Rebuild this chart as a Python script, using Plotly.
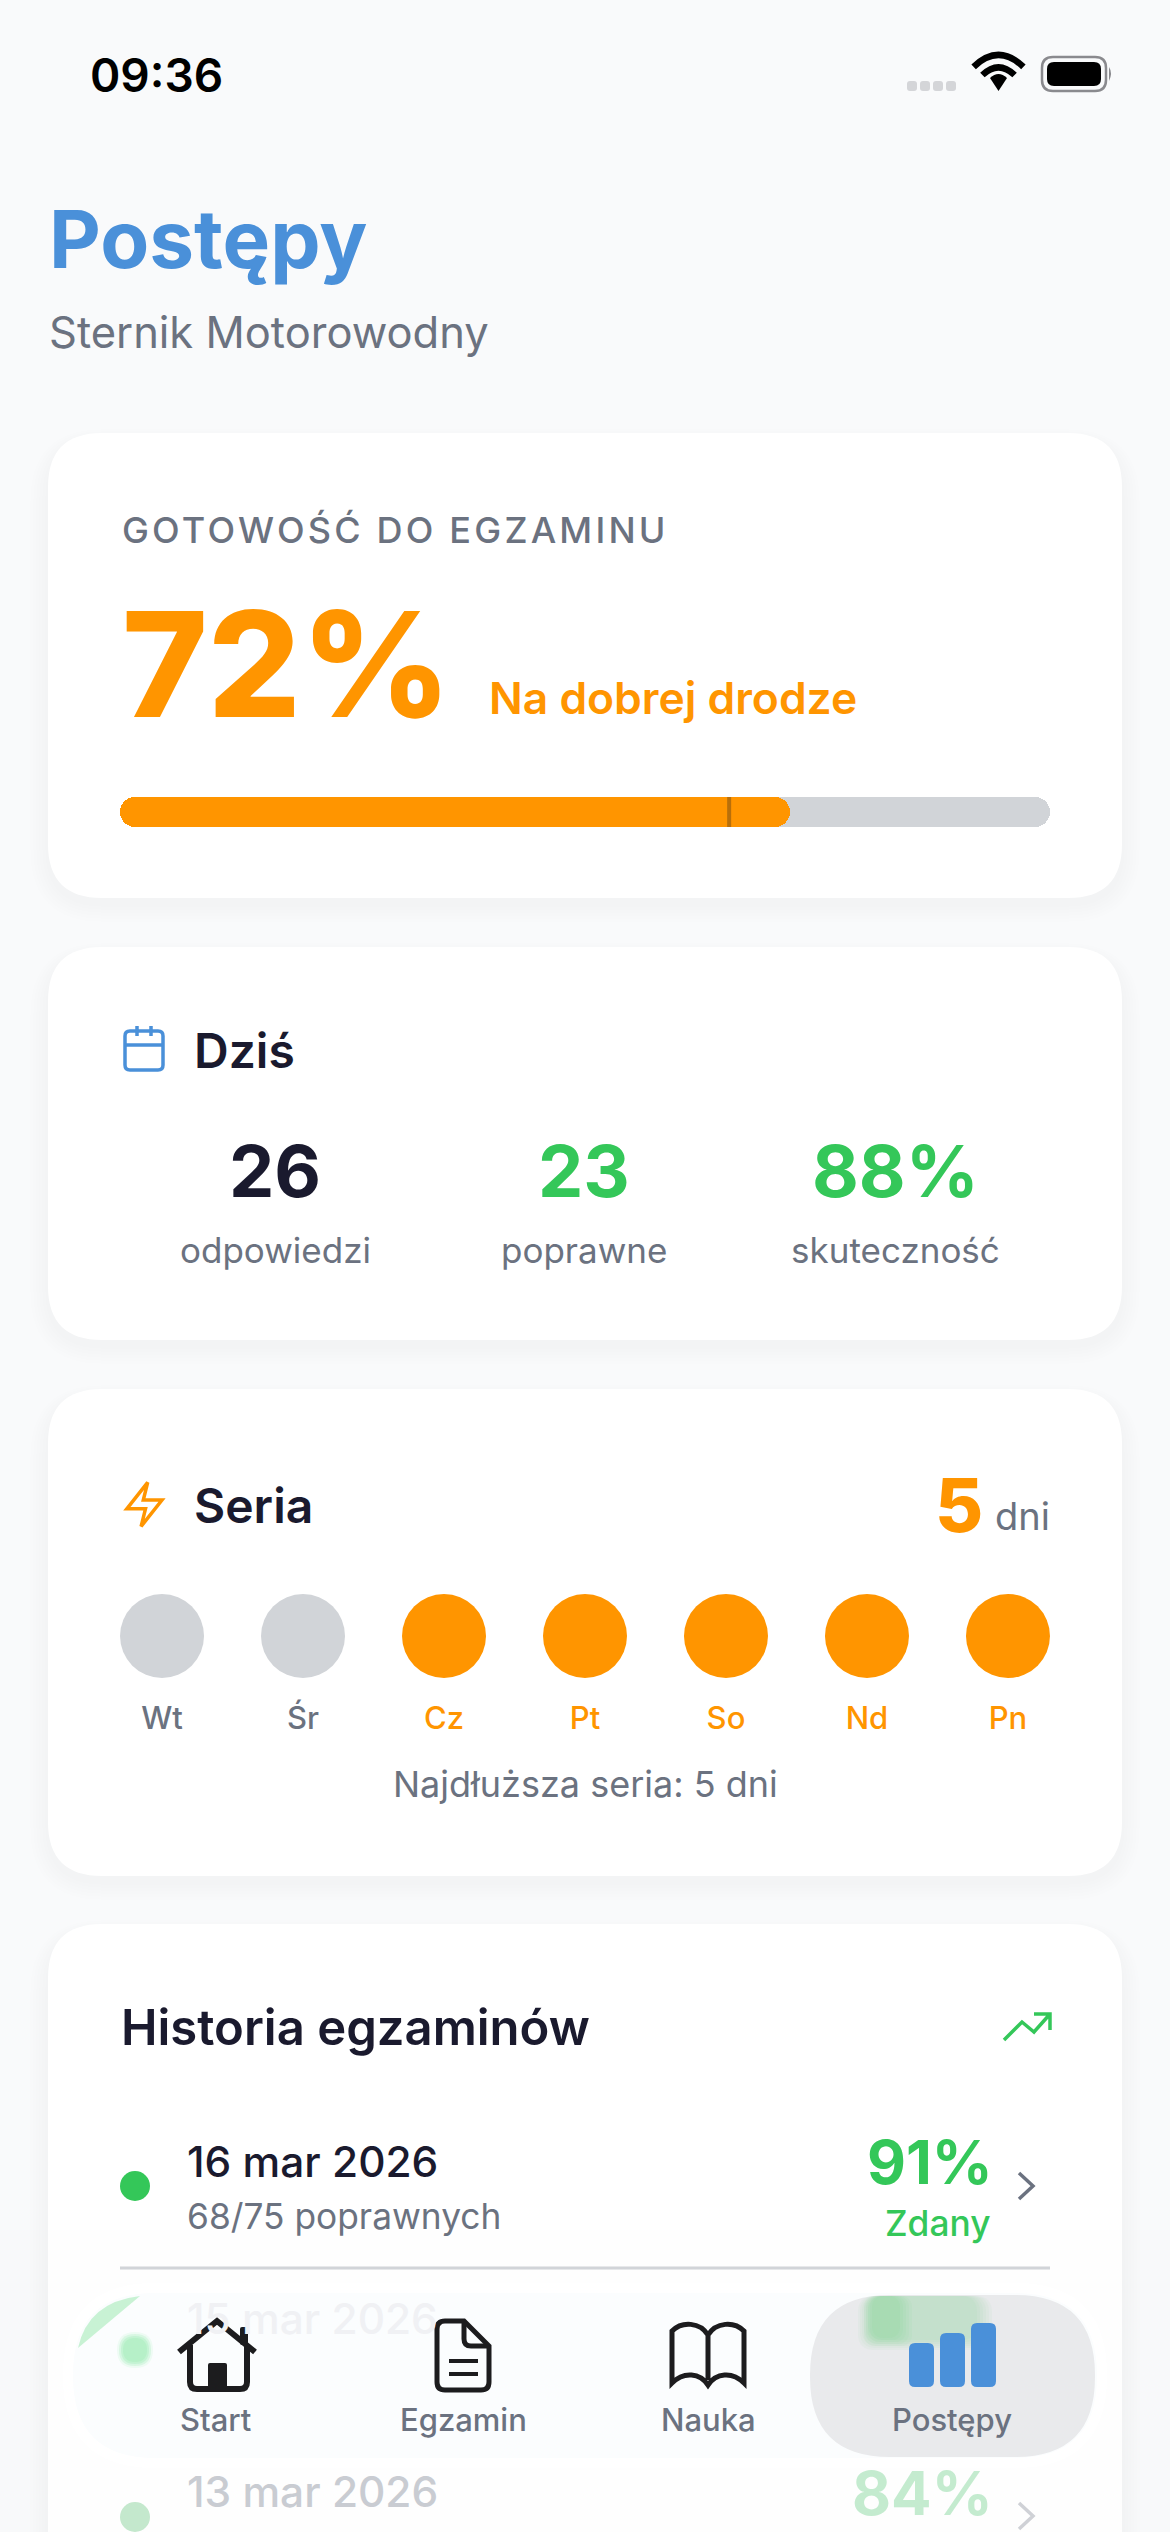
############################################################################

# Required Libraries
import numpy as np
import plotly.graph_objects as go

############################################################################

# Data
readiness_value  = 72
readiness_mark   = 65.5
readiness_label  = 'Na dobrej drodze'
today_values     = ['26', '23', '88%']
today_labels     = ['odpowiedzi', 'poprawne', 'skuteczność']
streak_days      = ['Wt', 'Śr', 'Cz', 'Pt', 'So', 'Nd', 'Pn']
streak_done      = [0, 0, 1, 1, 1, 1, 1]
streak_count     = 5
streak_best      = 5
exam_dates       = ['16 mar 2026', '15 mar 2026', '13 mar 2026']
exam_scores      = [91, 88, 84]
tab_labels       = ['Start', 'Egzamin', 'Nauka', 'Postępy']

############################################################################

BLUE   = '#4A90D9'
ORANGE = '#FF9500'
GREEN  = '#34C759'
INK    = '#1A1A2E'
GREY   = '#6B7280'
TRACK  = '#D1D4D8'
DARK   = '#1C1C1E'
FONT   = 'Inter'
W, H   = 1170, 2532

shapes = []
notes  = []

############################################################################

# Function: Rounded Rectangle Path
def rounded(x0, y0, x1, y1, r):
    return (f'M{x0+r},{y0} L{x1-r},{y0} Q{x1},{y0} {x1},{y0+r} L{x1},{y1-r} Q{x1},{y1} {x1-r},{y1} '
            f'L{x0+r},{y1} Q{x0},{y1} {x0},{y1-r} L{x0},{y0+r} Q{x0},{y0} {x0+r},{y0} Z')

# Function: Add Path Shape
def add_path(path, fill = None, line = None, width = 0, layer = 'below'):
    shapes.append(dict(type = 'path', path = path, xref = 'x', yref = 'y', layer = layer,
                       fillcolor = fill if fill else 'rgba(0,0,0,0)',
                       line = dict(color = line if line else 'rgba(0,0,0,0)', width = width)))

# Function: Add Text
def add_text(x, y, text, size, color, weight = 400, anchor = 'left', family = FONT):
    notes.append(dict(x = x, y = y, xref = 'x', yref = 'y', text = text, showarrow = False,
                      xanchor = anchor, yanchor = 'middle', borderpad = 0,
                      font = dict(family = family, size = size, color = color, weight = weight)))

# Function: Card With Soft Shadow
def add_card(y0, y1):
    for i in range(6, 0, -1):
        add_path(rounded(48-i*3, y0-i*2+8, 1122+i*3, y1+i*3+6, 54+i*3), fill = 'rgba(30,40,60,0.0035)')
    add_path(rounded(48, y0, 1122, y1, 54), fill = '#FFFFFF')

############################################################################

# Background, Status Bar
add_text(89, 75, '09:36', 46, '#000000', 600)
for x in [912, 925, 938, 951]:
    add_path(rounded(x-5, 81, x+5, 91, 3), fill = '#D4D5D8')
for r, w in [(34, 6.5), (22, 6.5)]:
    a = r*np.sin(np.radians(47))
    b = r*np.cos(np.radians(47))
    add_path(f'M{998.5-a},{90-b} Q998.5,{90-r*1.38} {998.5+a},{90-b}', line = '#000000', width = w)
add_path('M990,78 Q998.5,70 1007,78 L998.5,91 Z', fill = '#000000')
add_path(rounded(1042, 57, 1106, 91, 11), line = '#8A8A8E', width = 2.5)
add_path(rounded(1047, 62, 1101, 86, 7), fill = '#000000')
add_path('M1109,67 Q1113,73 1109,81 Z', fill = '#8A8A8E')

# Header
add_text(48, 238, 'Postępy', 80, BLUE, 700)
add_text(48, 332, 'Sternik Motorowodny', 43.5, GREY)

# Card: Readiness
add_card(433, 898)
add_text(153, 530, 'GOTOWOŚĆ DO EGZAMINU', 36, GREY, 500)
add_text(121, 664, f'{readiness_value}%', 146, ORANGE, 800)
add_text(488, 698, readiness_label, 44.4, ORANGE, 600)

# Card: Today
add_card(947, 1340)
add_path(rounded(125, 1031, 163, 1070, 5), line = BLUE, width = 3.5)
add_path('M125,1045 L163,1045 M137,1026 L137,1036 M151,1026 L151,1036', line = BLUE, width = 3.5)
add_text(193, 1050, 'Dziś', 48, INK, 600)
for x, value, label, color in zip([275, 584, 895], today_values, today_labels, [INK, GREEN, GREEN]):
    add_text(x, 1170, value, 72, color, 700, 'center')
    add_text(x, 1250, label, 35, GREY, 400, 'center')

# Card: Streak
add_card(1389, 1876)
bolt = [(4, 14), (13.5, 2), (11.5, 10), (20, 10), (10.5, 22), (12.5, 14)]
add_path('M' + ' L'.join(f'{118+px*2.2},{1478+py*2.2}' for px, py in bolt) + ' Z', line = ORANGE, width = 3.5)
add_text(193, 1505, 'Seria', 48, INK, 600)
add_text(984, 1505, str(streak_count), 74, ORANGE, 800, 'right')
add_text(1051, 1516, 'dni', 38, GREY, 400, 'right')
add_text(585, 1784, f'Najdłuższa seria: {streak_best} dni', 36, GREY, 400, 'center')

# Card: Exam History
add_card(1924, 2640)
add_text(120, 2027, 'Historia egzaminów', 49, INK, 600)
trend = 'M1004,2040 L1022,2022 L1034,2032 L1050,2014 M1034,2014 L1050,2014 L1050,2030'
add_path(trend, line = GREEN, width = 3.5)

add_text(186, 2161, exam_dates[0], 42.4, INK, 500)
add_text(186, 2216, '68/75 poprawnych', 35.3, GREY)
add_text(994, 2162, f'{exam_scores[0]}%', 60, GREEN, 700, 'right')
add_text(991, 2223, 'Zdany', 35.3, GREEN, 500, 'right')
add_path('M1019,2173 L1033,2186 L1019,2199', line = GREY, width = 3.5)
add_path('M120,2268 L1050,2268', line = TRACK, width = 3)

# Fade Behind The Tab Bar
for y in range(2230, 2532, 10):
    add_path(f'M0,{y} L{W},{y} L{W},{y+10} L0,{y+10} Z', fill = 'rgba(221,223,226,0.028)')

add_text(186, 2491, exam_dates[2], 42.4, '#C9CCD2', 500)
add_text(994, 2493, f'{exam_scores[2]}%', 60, '#C4EBCF', 700, 'right')
add_path('M1019,2503 L1033,2516 L1019,2529', line = '#CFD1D6', width = 3.5)

# Tab Bar
add_path(rounded(63, 2283, 1107, 2468, 92), fill = '#FFFFFF', layer = 'above')
add_path(rounded(73, 2293, 1097, 2458, 82), fill = '#FBFDFE', layer = 'above')

# Ghost Of The Row Behind The Glass
add_path('M78,2348 Q88,2302 140,2296 Z', fill = 'rgba(190,240,205,0.85)', layer = 'above')
for r, a in [(18, 0.12), (16, 0.25), (14, 0.30), (12, 0.30)]:
    add_path(rounded(135-r, 2350-r, 135+r, 2350+r, r), fill = f'rgba(150,235,175,{a})', layer = 'above')
add_path(rounded(810, 2295, 1095, 2457, 80), fill = '#E9EAEC', layer = 'above')
for i in range(6):
    add_path(rounded(858+i*2, 2296, 992-i*3, 2350-i*2, 16), fill = 'rgba(52,199,89,0.035)', layer = 'above')
for i in range(5):
    add_path(rounded(864+i*2, 2296, 912-i*3, 2346-i*2, 12), fill = 'rgba(52,199,89,0.04)', layer = 'above')
add_text(186, 2318, exam_dates[1], 42.4, '#F0F1F4', 500)

# Tab Icons
add_path('M179,2352 L217,2321 L255,2352 M190,2345 L190,2382 Q190,2389 197,2389 L240,2389 Q247,2389 247,2382 L247,2345',
         line = DARK, width = 6, layer = 'above')
add_path(rounded(240, 2327, 248, 2345, 2), fill = DARK, layer = 'above')
add_path(rounded(208, 2363, 227, 2389, 2), fill = DARK, layer = 'above')
add_path('M464,2321 L445,2321 Q437,2321 437,2329 L437,2382 Q437,2390 445,2390 L481,2390 Q489,2390 489,2382 L489,2346 Z',
         line = DARK, width = 5, layer = 'above')
add_path('M464,2321 L464,2339 Q464,2346 471,2346 L489,2346', line = DARK, width = 5, layer = 'above')
add_path('M449,2361 L478,2361 M449,2374 L478,2374', line = DARK, width = 4, layer = 'above')
add_path('M708,2335 C700,2322 682,2321 672,2331 L672,2383 C684,2371 700,2373 708,2385 '
         'C716,2373 732,2371 744,2383 L744,2331 C734,2321 716,2322 708,2335 Z M708,2335 L708,2380',
         line = DARK, width = 5, layer = 'above')
for x0, x1, top in [(909, 934, 2343), (940, 965, 2333), (971, 996, 2323)]:
    add_path(rounded(x0, top, x1, 2387, 6), fill = BLUE, layer = 'above')
for x, label in zip([215, 463, 708, 952], tab_labels):
    add_text(x, 2419, label, 31, GREY, 500, 'center')

############################################################################

# Traces
data = []

# Progress Bar: Value Scale 0-100, Two Overlapping Bars So Both Ends Are Round
for value, color in [(100, TRACK), (readiness_value, ORANGE)]:
    data.append(go.Bar(x = [value*2/3, -value*2/3], base = [value/3, value*2/3], y = [812, 812], width = 30,
                       orientation = 'h', xaxis = 'x2', yaxis = 'y',
                       marker = dict(color = color, cornerradius = 15, line = dict(width = 0)), hoverinfo = 'skip'))
data.append(go.Scatter(x = [readiness_mark, readiness_mark], y = [797, 827], mode = 'lines', xaxis = 'x2', yaxis = 'y',
                       line = dict(color = '#B86F0A', width = 4), hoverinfo = 'skip'))

# Streak Dots: Category Scale
colors = [ORANGE if d else TRACK for d in streak_done]
text_c = [ORANGE if d else GREY for d in streak_done]
data.append(go.Scatter(x = streak_days, y = [1636]*len(streak_days), mode = 'markers', xaxis = 'x3', yaxis = 'y',
                       marker = dict(color = colors, size = 84, line = dict(width = 0)), hoverinfo = 'skip'))
data.append(go.Scatter(x = streak_days, y = [1721]*len(streak_days), mode = 'text', xaxis = 'x3', yaxis = 'y',
                       text = streak_days, textposition = 'middle center',
                       textfont = dict(family = FONT, size = 31, color = text_c, weight = 500), hoverinfo = 'skip'))

# Exam Status Dots
data.append(go.Scatter(x = [135, 135], y = [2186, 2517], mode = 'markers',
                       marker = dict(color = [GREEN, '#C4E8CD'], size = 30, line = dict(width = 0)), hoverinfo = 'skip'))

############################################################################

layout = go.Layout(width = W, height = H, showlegend = False, barmode = 'overlay', bargap = 0,
                   margin = dict(l = 0, r = 0, t = 0, b = 0, autoexpand = False),
                   paper_bgcolor = '#F9FAFB', plot_bgcolor = 'rgba(0,0,0,0)',
                   xaxis  = dict(range = [0, W], domain = [0, 1], visible = False, fixedrange = True),
                   yaxis  = dict(range = [H, 0], domain = [0, 1], visible = False, fixedrange = True),
                   xaxis2 = dict(range = [0, 100], domain = [120/W, 1050/W], anchor = 'y', visible = False, fixedrange = True),
                   xaxis3 = dict(type = 'category', categoryorder = 'array', categoryarray = streak_days,
                                 range = [-0.298, len(streak_days)-1+0.298], domain = [120/W, 1050/W],
                                 anchor = 'y', visible = False, fixedrange = True),
                   shapes = shapes, annotations = notes)

# Plotly has no letter spacing option, so it is set on the drawn heading
spacing = """
document.body.style.margin='0';document.body.style.overflow='hidden';
function spaceHeading(){document.querySelectorAll('.annotation-text').forEach(function(t){
  if(t.textContent.indexOf('GOTOWO')===0){t.style.letterSpacing='3.2px';}});}
spaceHeading();setTimeout(spaceHeading,0);
"""

fig = go.Figure(data = data, layout = layout)
fig.write_html('out.html', config = dict(displayModeBar = False), post_script = spacing)

############################################################################
